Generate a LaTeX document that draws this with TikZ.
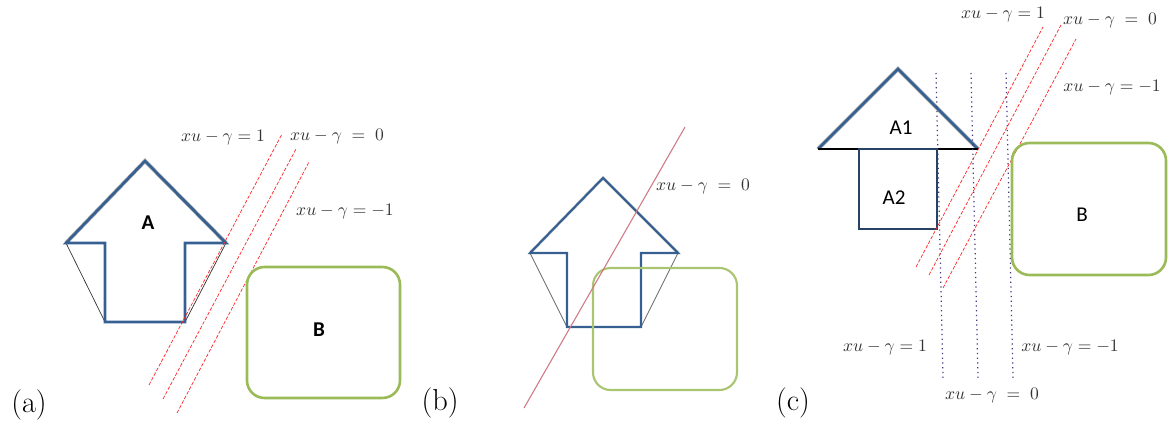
\documentclass[tikz,border=0pt]{standalone}
\usepackage{amsmath}
\usepackage{fontspec}
\newfontfamily\calib{Carlito}
\usepackage{xcolor}
\definecolor{arrowblue}{RGB}{54, 96, 146}
\definecolor{boxgreen}{RGB}{155, 187, 89}
\definecolor{rose}{RGB}{205, 120, 130}
\definecolor{dotpurple}{RGB}{70, 55, 130}
\usetikzlibrary{positioning}

\begin{document}
\begin{tikzpicture}[x=0.02cm, y=-0.02cm,
  arrowline/.style={draw=arrowblue, line width=1.5pt, line join=miter},
  roofshade/.style={draw=gray!60, line width=2.3pt},
  thinside/.style={draw=black!80, line width=0.4pt},
  greenbox/.style={draw=boxgreen, line width=1.5pt, rounded corners=10pt},
  marginline/.style={draw=red!85, line width=0.4pt, dash pattern=on 2pt off 1pt},
  hyperline/.style={draw=rose, line width=0.6pt},
  vertline/.style={draw=dotpurple, line width=0.7pt, dotted},
  mathlbl/.style={font=\normalsize, text=black!80, inner sep=1pt},
  shapelbl/.style={font=\calib\large},
  panellbl/.style={font=\LARGE}
]
\useasboundingbox (0,0) rectangle (1168,425);

% (a) arrow shape A, box B and the three margins
\coordinate (aT) at (145,161);
\coordinate (aL) at (66,243);
\coordinate (aR) at (226,243);
\coordinate (aIL) at (105,243);
\coordinate (aIR) at (185,243);
\coordinate (aBL) at (105,322);
\coordinate (aBR) at (185,322);
\draw[thinside] (aL) -- (aBL) (aR) -- (aBR);
\draw[roofshade] (aL) -- (aT) -- (aR);
\draw[arrowline] (aL) -- (aT) -- (aR) -- (aIR) -- (aBR) -- (aBL) -- (aIL) -- cycle;
\node[shapelbl, font=\calib\bfseries\large] (lblA) at (148,223) {A};

\draw[marginline] (149,385) -- (282,134);
\draw[marginline] (163,399) -- (296,149);
\draw[marginline] (177,413) -- (309,162);
\node[mathlbl] (aOne) at (223,138) {$xu-\gamma=1$};
\node[mathlbl] (aZero) at (337,137) {$xu-\gamma\;=\;0$};
\node[mathlbl] (aMinus) at (345,212) {$xu-\gamma=-1$};

\draw[greenbox] (247,267) rectangle (400,398);
\node[shapelbl, font=\calib\bfseries\large] (lblBa) at (319,330) {B};
\node[panellbl] (pa) at (29,405) {(a)};

% (b) overlapping sets, one separating line
\coordinate (bT) at (603,178);
\coordinate (bL) at (530,253);
\coordinate (bR) at (678,253);
\coordinate (bIL) at (567,253);
\coordinate (bIR) at (641,253);
\coordinate (bBL) at (567,327);
\coordinate (bBR) at (641,327);
\draw[thinside, draw=black!60] (bL) -- (bBL) (bR) -- (bBR);
\draw[roofshade, line width=1.8pt, draw=gray!40] (bL) -- (bT) -- (bR);
\draw[arrowline, line width=1.2pt] (bL) -- (bT) -- (bR) -- (bIR) -- (bBR) -- (bBL) -- (bIL) -- cycle;
\draw[greenbox, line width=1.2pt, draw=boxgreen!85] (593,268) rectangle (737,390);
\draw[hyperline] (524,408) -- (685,127);
\node[mathlbl] (bZero) at (703,187) {$xu-\gamma\;=\;0$};
\node[panellbl] (pb) at (440,403) {(b)};

% (c) A split into A1 and A2
\coordinate (cT) at (898,69);
\coordinate (cL) at (818,149);
\coordinate (cR) at (978,149);
\draw[roofshade] (cL) -- (cT) -- (cR);
\draw[arrowline] (cL) -- (cT) -- (cR);
\draw[black, line width=1.2pt] (cL) -- (cR);
\draw[arrowline, draw=arrowblue!70!black] (859,149) rectangle (937,229);
\node[shapelbl] (lblAa) at (901,128) {A1};
\node[shapelbl] (lblAb) at (894,198) {A2};

\draw[vertline] (936,73) -- (943,378);
\draw[vertline] (971,73) -- (978,378);
\draw[vertline] (1006,73) -- (1013,378);

\draw[marginline] (916,267) -- (1043,27);
\draw[marginline] (929,275) -- (1061,25);
\draw[marginline] (943,288) -- (1076,39);

\node[mathlbl] (cOneT) at (1003,15) {$xu-\gamma=1$};
\node[mathlbl] (cZeroT) at (1110,21) {$xu-\gamma\;=\;0$};
\node[mathlbl] (cMinusT) at (1112,88) {$xu-\gamma=-1$};
\node[mathlbl] (cOneB) at (885,348) {$xu-\gamma=1$};
\node[mathlbl] (cMinusB) at (1070,348) {$xu-\gamma=-1$};
\node[mathlbl] (cZeroB) at (992,396) {$xu-\gamma\;=\;0$};

\draw[greenbox] (1012,143) rectangle (1166,275);
\node[shapelbl] (lblBc) at (1082,215) {B};
\node[panellbl] (pc) at (793,403) {(c)};
\end{tikzpicture}
\end{document}
